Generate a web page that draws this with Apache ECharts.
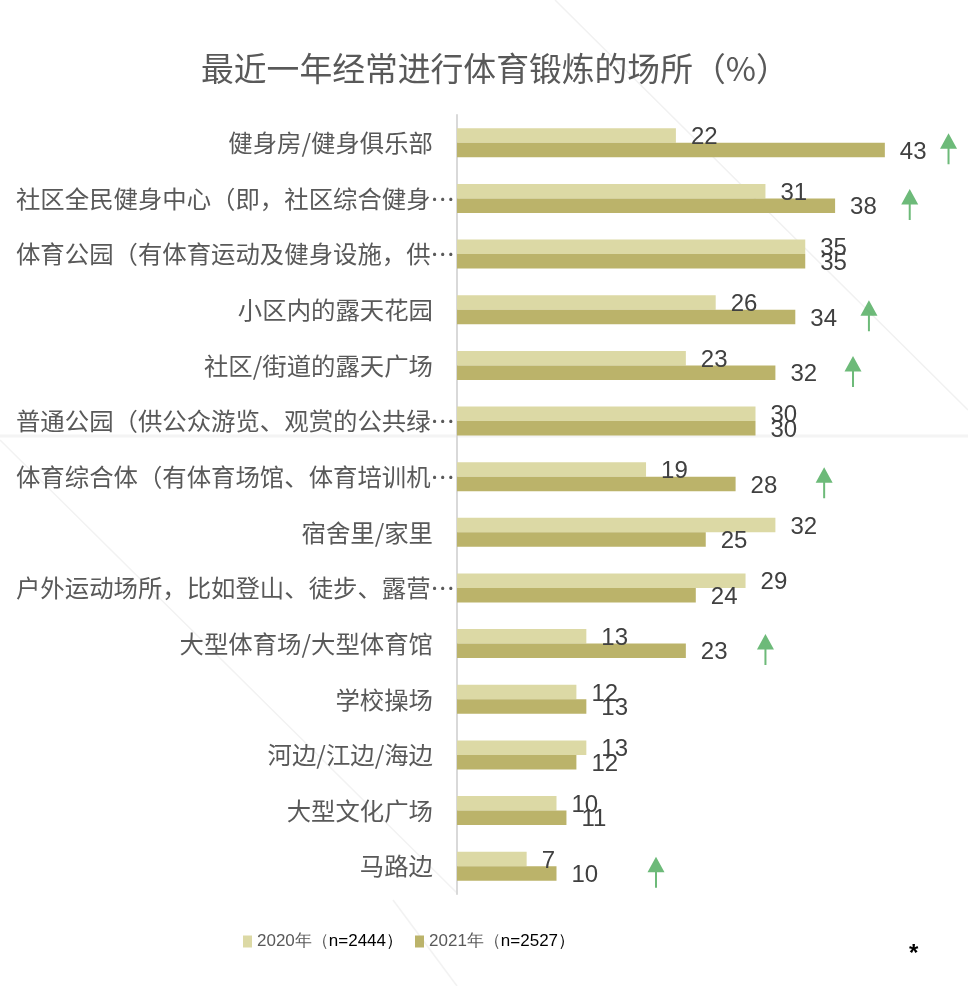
<!DOCTYPE html>
<html>
<head>
<meta charset="utf-8">
<script src="https://cdn.jsdelivr.net/npm/echarts@6/dist/echarts.min.js"></script>
<style>
html,body{margin:0;padding:0;background:#fff;}
#c{width:968px;height:986px;}
</style>
</head>
<body>
<div id="c"></div>
<script>
var titleText = '最近一年经常进行体育锻炼的场所（%）';
var categories = [
  '健身房/健身俱乐部',
  '社区全民健身中心（即，社区综合健身…',
  '体育公园（有体育运动及健身设施，供…',
  '小区内的露天花园',
  '社区/街道的露天广场',
  '普通公园（供公众游览、观赏的公共绿…',
  '体育综合体（有体育场馆、体育培训机…',
  '宿舍里/家里',
  '户外运动场所，比如登山、徒步、露营…',
  '大型体育场/大型体育馆',
  '学校操场',
  '河边/江边/海边',
  '大型文化广场',
  '马路边'
];
var seriesNames = ['2020年（n=2444）', '2021年（n=2527）'];
var values2020 = [22, 31, 35, 26, 23, 30, 19, 32, 29, 13, 12, 13, 10, 7];
var values2021 = [43, 38, 35, 34, 32, 30, 28, 25, 24, 23, 13, 12, 11, 10];
// positions (in value units) of the green "increase" arrows; null = no arrow
var arrowX = [49.4, 45.5, null, 41.4, 39.8, null, 36.9, null, null, 31.0, null, null, null, 20.0];

var arrowData = [];
arrowX.forEach(function (x, i) { if (x !== null) arrowData.push([x, i]); });

var chart = echarts.init(document.getElementById('c'));
var labelStyle = {
  show: true, position: 'right', distance: 15, offset: [0, 2],
  fontSize: 24, color: '#404040', fontFamily: 'Liberation Sans, Arial, sans-serif'
};
var legendFont = 'Liberation Sans, Arial, sans-serif';
chart.setOption({
  animation: false,
  backgroundColor: '#ffffff',
  title: {
    text: titleText, left: 196, top: 47,
    textStyle: { fontSize: 32.8, fontWeight: 'normal', color: '#595959', fontFamily: 'Noto Sans CJK SC' }
  },
  legend: {
    data: seriesNames, left: 243, top: 933, padding: 0, itemWidth: 9, itemHeight: 12, itemGap: 12, icon: 'rect',
    formatter: function (name) {
      var k = name.indexOf('（');
      return '{a|' + name.slice(0, k + 1) + '}{b|' + name.slice(k + 1) + '}';
    },
    textStyle: {
      fontSize: 17, fontFamily: legendFont,
      rich: {
        a: { fontSize: 17, color: '#595959', fontFamily: legendFont },
        b: { fontSize: 17, color: '#000000', fontFamily: legendFont }
      }
    }
  },
  grid: { left: 457, top: 115, width: 497.5, height: 779, containLabel: false },
  xAxis: { type: 'value', min: 0, max: 50, show: false },
  yAxis: {
    type: 'category', inverse: true, data: categories,
    axisTick: { show: false },
    axisLine: { show: true, lineStyle: { color: '#d9d9d9', width: 2 } },
    axisLabel: {
      margin: 2, fontSize: 24.4, color: '#595959', fontFamily: 'Noto Sans CJK SC',
      formatter: function (v) {
        return v.slice(-1) === '…' ? v : v + '{p| }';
      },
      rich: { p: { width: 22, fontSize: 24 } }
    },
    splitLine: { show: false }
  },
  series: [
    {
      name: seriesNames[0], type: 'bar', data: values2020, barWidth: 14.5, barGap: '0%',
      itemStyle: { color: '#DCD9A5' }, label: labelStyle
    },
    {
      name: seriesNames[1], type: 'bar', data: values2021, barWidth: 14.5, barGap: '0%',
      itemStyle: { color: '#BBB36A' }, label: labelStyle
    },
    {
      name: 'arrow', type: 'scatter', data: arrowData,
      symbol: 'path://M8.5,0 L17,15.5 L9.5,15.5 L9.5,31 L7.5,31 L7.5,15.5 L0,15.5 Z',
      symbolSize: [17, 31], symbolOffset: [0, 6],
      itemStyle: { color: '#48A957' }, z: 5
    }
  ],
  graphic: [
    { type: 'line', silent: true, z: -10, shape: { x1: 555, y1: 0, x2: 968, y2: 410 }, style: { stroke: '#f1f1f1', lineWidth: 1.5 } },
    { type: 'line', silent: true, z: -10, shape: { x1: 0, y1: 436, x2: 968, y2: 436 }, style: { stroke: '#f4f4f4', lineWidth: 3 } },
    { type: 'line', silent: true, z: -10, shape: { x1: 0, y1: 440, x2: 457, y2: 893 }, style: { stroke: '#f2f2f2', lineWidth: 1.5 } },
    { type: 'line', silent: true, z: -10, shape: { x1: 393, y1: 900, x2: 457, y2: 986 }, style: { stroke: '#f2f2f2', lineWidth: 1.5 } },
    { type: 'text', left: 909, top: 942, style: { text: '*', fontSize: 24, fontWeight: 'bold', fill: '#000', fontFamily: 'Liberation Sans' } }
  ]
});
</script>
</body>
</html>
